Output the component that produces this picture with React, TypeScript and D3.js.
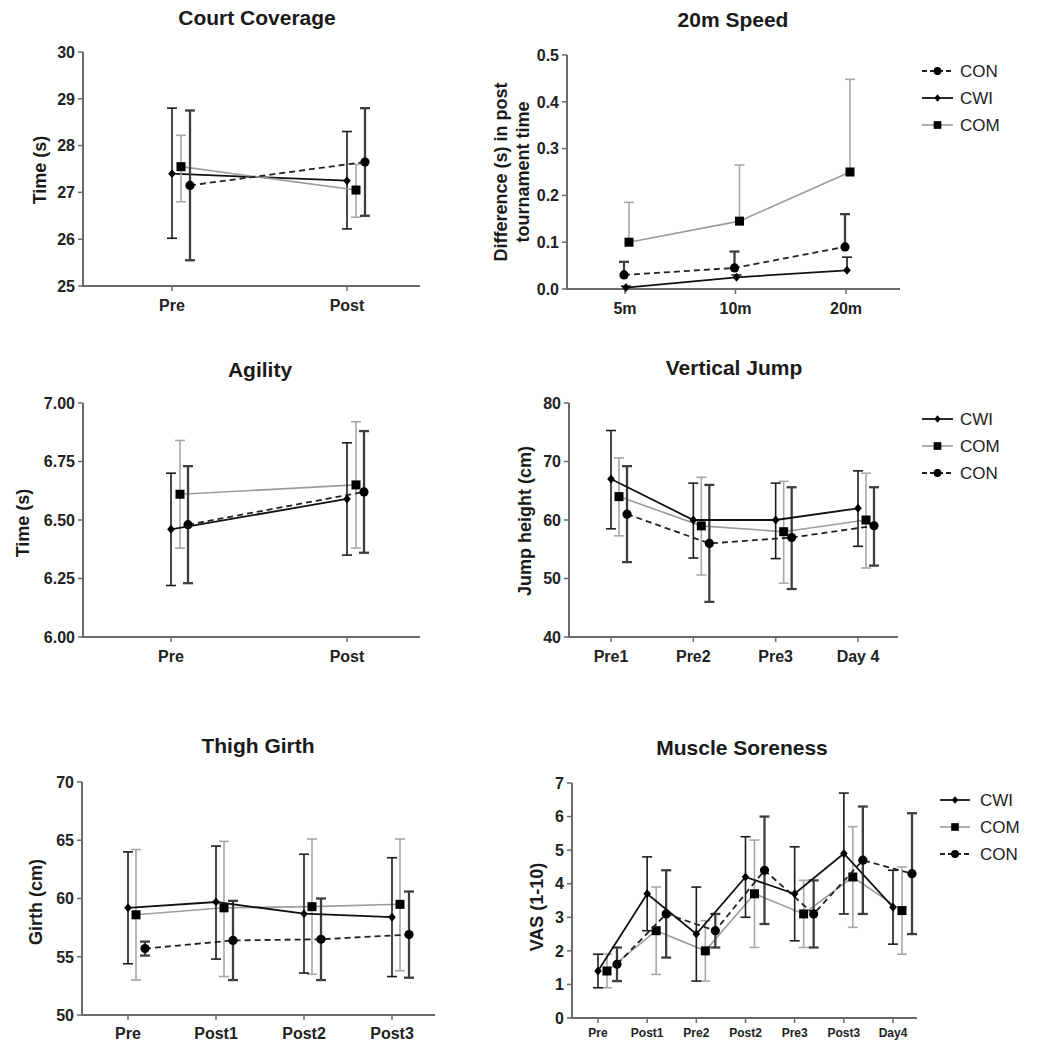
import React from "react";
import * as d3 from "d3";

// ---------- DATA ([mean, lower, upper]) ----------
const ccCats = ["Pre", "Post"];
const ccTicks = [25, 26, 27, 28, 29, 30];
const ccCWI = [[27.4, 26.02, 28.8], [27.25, 26.22, 28.3]];
const ccCOM = [[27.55, 26.8, 28.22], [27.05, 26.47, 27.6]];
const ccCON = [[27.15, 25.55, 28.75], [27.65, 26.5, 28.8]];

const spCats = ["5m", "10m", "20m"];
const spTicks = [0, 0.1, 0.2, 0.3, 0.4, 0.5];
const spCWI = [[0.003, null, 0.006], [0.025, null, 0.03], [0.04, null, 0.068]];
const spCOM = [[0.1, null, 0.185], [0.145, null, 0.265], [0.25, null, 0.448]];
const spCON = [[0.03, null, 0.058], [0.045, null, 0.08], [0.09, null, 0.16]];

const agCats = ["Pre", "Post"];
const agTicks = [6.0, 6.25, 6.5, 6.75, 7.0];
const agCWI = [[6.46, 6.22, 6.7], [6.59, 6.35, 6.83]];
const agCOM = [[6.61, 6.38, 6.84], [6.65, 6.38, 6.92]];
const agCON = [[6.48, 6.23, 6.73], [6.62, 6.36, 6.88]];

const vjCats = ["Pre1", "Pre2", "Pre3", "Day 4"];
const vjTicks = [40, 50, 60, 70, 80];
const vjCWI = [[67, 58.5, 75.3], [60, 53.5, 66.3], [60, 53.4, 66.3], [62, 55.5, 68.4]];
const vjCOM = [[64, 57.3, 70.6], [59, 50.6, 67.3], [58, 49.2, 66.6], [60, 51.8, 68.0]];
const vjCON = [[61, 52.8, 69.2], [56, 46, 66], [57, 48.2, 65.6], [59, 52.2, 65.6]];

const tgCats = ["Pre", "Post1", "Post2", "Post3"];
const tgTicks = [50, 55, 60, 65, 70];
const tgCWI = [[59.2, 54.4, 64.0], [59.7, 54.8, 64.5], [58.7, 53.6, 63.8], [58.4, 53.3, 63.5]];
const tgCOM = [[58.6, 53.0, 64.2], [59.2, 53.3, 64.9], [59.3, 53.5, 65.1], [59.5, 53.8, 65.1]];
const tgCON = [[55.7, 55.1, 56.3], [56.4, 53.0, 59.8], [56.5, 53.0, 60.0], [56.9, 53.2, 60.6]];

const msCats = ["Pre", "Post1", "Pre2", "Post2", "Pre3", "Post3", "Day4"];
const msTicks = [0, 1, 2, 3, 4, 5, 6, 7];
const msCWI = [[1.4, 0.9, 1.9], [3.7, 2.6, 4.8], [2.5, 1.1, 3.9], [4.2, 3.0, 5.4], [3.7, 2.3, 5.1], [4.9, 3.1, 6.7], [3.3, 2.2, 4.4]];
const msCOM = [[1.4, 0.9, 1.9], [2.6, 1.3, 3.9], [2.0, 1.1, 2.9], [3.7, 2.1, 5.3], [3.1, 2.1, 4.1], [4.2, 2.7, 5.7], [3.2, 1.9, 4.5]];
const msCON = [[1.6, 1.1, 2.1], [3.1, 1.8, 4.4], [2.6, 2.1, 3.1], [4.4, 2.8, 6.0], [3.1, 2.1, 4.1], [4.7, 3.1, 6.3], [4.3, 2.5, 6.1]];

// ---------- STYLES ----------
const FONT = "'Liberation Sans', Arial, Helvetica, sans-serif";
const STY: any = {
  CWI: { line: "#111", dash: null, lw: 1.8, err: "#1c1c1c", ew: 1.6, marker: "diamond" },
  COM: { line: "#9c9c9c", dash: null, lw: 1.6, err: "#a8a8a8", ew: 1.6, marker: "square" },
  CON: { line: "#222", dash: "6,4", lw: 1.8, err: "#3e3e3e", ew: 2.3, marker: "circle" },
};

function Marker({ kind, x, y, s = 1 }: any) {
  if (kind === "diamond")
    return <path d={`M${x},${y - 4.5 * s}L${x + 3.8 * s},${y}L${x},${y + 4.5 * s}L${x - 3.8 * s},${y}Z`} fill="#000" />;
  if (kind === "square") return <rect x={x - 4.5 * s} y={y - 4.5 * s} width={9 * s} height={9 * s} fill="#000" />;
  return <circle cx={x} cy={y} r={4.6 * s} fill="#000" />;
}

function Panel(p: any) {
  const y = d3.scaleLinear().domain(p.yDomain).range([p.yBot, p.yTop]);
  const x = d3.scalePoint().domain(p.cats).range([p.t0, p.t1]).padding(0);
  const fmt = d3.format(p.yFmt);
  return (
    <g fontFamily={FONT}>
      <text x={p.titleX} y={p.titleY} textAnchor="middle" fontSize={21} fontWeight="bold" fill="#1a1a1a">
        {p.title}
      </text>
      {p.ylab.map((l: string, i: number) => (
        <text
          key={i}
          transform={`translate(${p.ylabX[i]},${p.ylabY}) rotate(-90)`}
          textAnchor="middle"
          dy="0.35em"
          fontSize={18}
          fontWeight="bold"
          fill="#1a1a1a"
        >
          {l}
        </text>
      ))}
      {/* axes */}
      <line x1={p.axL} x2={p.axL} y1={p.yTop} y2={p.yBot} stroke="#6a6a6a" strokeWidth={2} />
      <line x1={p.axL - 1} x2={p.axR} y1={p.yBot} y2={p.yBot} stroke="#6a6a6a" strokeWidth={2} />
      {p.yTicks.map((t: number) => (
        <g key={t}>
          <line x1={p.axL - 5} x2={p.axL} y1={y(t)} y2={y(t)} stroke="#6a6a6a" strokeWidth={1.5} />
          <text x={p.axL - 8} y={y(t)} dy="0.36em" textAnchor="end" fontSize={16} fontWeight="bold" fill="#222">
            {fmt(t)}
          </text>
        </g>
      ))}
      {p.cats.map((c: string) => (
        <g key={c}>
          <line x1={x(c)} x2={x(c)} y1={p.yBot} y2={p.yBot + 5} stroke="#6a6a6a" strokeWidth={1.5} />
          <text x={x(c)} y={p.xlabY} textAnchor="middle" fontSize={p.xFont} fontWeight="bold" fill="#222">
            {c}
          </text>
        </g>
      ))}
      {/* series */}
      {p.series.map((s: any) => {
        const st = STY[s.name];
        const pts = s.data.map((d: any, i: number) => [x(p.cats[i])! + s.off, y(d[0])]);
        const line = d3.line()(pts as any);
        return (
          <g key={s.name}>
            <path d={line!} fill="none" stroke={st.line} strokeWidth={st.lw} strokeDasharray={st.dash || undefined} />
            {s.data.map((d: any, i: number) => {
              const cx = pts[i][0];
              const lo = d[1] == null ? y(d[0]) : y(d[1]);
              const hi = y(d[2]);
              return (
                <g key={i} stroke={st.err} strokeWidth={st.ew}>
                  <line x1={cx} x2={cx} y1={lo} y2={hi} />
                  <line x1={cx - 5} x2={cx + 5} y1={hi} y2={hi} />
                  {d[1] != null && <line x1={cx - 5} x2={cx + 5} y1={lo} y2={lo} />}
                </g>
              );
            })}
            {pts.map((pt: any, i: number) => (
              <Marker key={i} kind={st.marker} x={pt[0]} y={pt[1]} />
            ))}
          </g>
        );
      })}
      {p.legend &&
        p.legend.order.map((n: string, i: number) => {
          const st = STY[n];
          const ly = p.legend.y0 + i * p.legend.dy;
          return (
            <g key={n}>
              <line
                x1={p.legend.x0}
                x2={p.legend.x1}
                y1={ly}
                y2={ly}
                stroke={st.line}
                strokeWidth={st.lw}
                strokeDasharray={st.dash ? "5,3" : undefined}
              />
              <Marker kind={st.marker} x={(p.legend.x0 + p.legend.x1) / 2} y={ly} s={0.85} />
              <text x={p.legend.tx} y={ly} dy="0.36em" fontSize={17} fill="#222">
                {n}
              </text>
            </g>
          );
        })}
    </g>
  );
}

export default function App() {
  return (
    <svg width={1037} height={1041} style={{ position: "absolute", left: 0, top: 0, background: "#fff" }}>
      <rect width={1037} height={1041} fill="#fff" />
      <Panel
        title="Court Coverage" titleX={257} titleY={25}
        ylab={["Time (s)"]} ylabX={[40]} ylabY={170}
        cats={ccCats} yDomain={[25, 30]} yTicks={ccTicks} yFmt="d"
        axL={83} axR={420} yTop={52} yBot={286} t0={172} t1={347} xlabY={311} xFont={16}
        series={[{ name: "CWI", data: ccCWI, off: 0 }, { name: "COM", data: ccCOM, off: 9 }, { name: "CON", data: ccCON, off: 18 }]}
      />
      <Panel
        title="20m Speed" titleX={733} titleY={27}
        ylab={["Difference (s) in post", "tournament time"]} ylabX={[501, 523]} ylabY={172}
        cats={spCats} yDomain={[0, 0.5]} yTicks={spTicks} yFmt=".1f"
        axL={567} axR={900} yTop={55} yBot={289} t0={625} t1={846} xlabY={314} xFont={16}
        series={[{ name: "COM", data: spCOM, off: 4 }, { name: "CON", data: spCON, off: -1 }, { name: "CWI", data: spCWI, off: 1 }]}
        legend={{ order: ["CON", "CWI", "COM"], x0: 922, x1: 953, tx: 960, y0: 71, dy: 27 }}
      />
      <Panel
        title="Agility" titleX={260} titleY={377}
        ylab={["Time (s)"]} ylabX={[23]} ylabY={523}
        cats={agCats} yDomain={[6, 7]} yTicks={agTicks} yFmt=".2f"
        axL={83} axR={420} yTop={403} yBot={637} t0={171} t1={347} xlabY={662} xFont={16}
        series={[{ name: "COM", data: agCOM, off: 9 }, { name: "CON", data: agCON, off: 17 }, { name: "CWI", data: agCWI, off: 0 }]}
      />
      <Panel
        title="Vertical Jump" titleX={734} titleY={375}
        ylab={["Jump height (cm)"]} ylabX={[525]} ylabY={521}
        cats={vjCats} yDomain={[40, 80]} yTicks={vjTicks} yFmt="d"
        axL={569} axR={898} yTop={403} yBot={637} t0={611} t1={858} xlabY={662} xFont={16}
        series={[{ name: "COM", data: vjCOM, off: 8 }, { name: "CON", data: vjCON, off: 16 }, { name: "CWI", data: vjCWI, off: 0 }]}
        legend={{ order: ["CWI", "COM", "CON"], x0: 922, x1: 953, tx: 960, y0: 419, dy: 27 }}
      />
      <Panel
        title="Thigh Girth" titleX={258} titleY={753}
        ylab={["Girth (cm)"]} ylabX={[36]} ylabY={902}
        cats={tgCats} yDomain={[50, 70]} yTicks={tgTicks} yFmt="d"
        axL={82} axR={435} yTop={782} yBot={1015} t0={128} t1={392} xlabY={1039} xFont={16}
        series={[{ name: "COM", data: tgCOM, off: 8 }, { name: "CON", data: tgCON, off: 17 }, { name: "CWI", data: tgCWI, off: 0 }]}
      />
      <Panel
        title="Muscle Soreness" titleX={742} titleY={755}
        ylab={["VAS (1-10)"]} ylabX={[537]} ylabY={907}
        cats={msCats} yDomain={[0, 7]} yTicks={msTicks} yFmt="d"
        axL={572} axR={917} yTop={783} yBot={1018} t0={598} t1={893} xlabY={1037} xFont={12}
        series={[{ name: "COM", data: msCOM, off: 9 }, { name: "CON", data: msCON, off: 19 }, { name: "CWI", data: msCWI, off: 0 }]}
        legend={{ order: ["CWI", "COM", "CON"], x0: 940, x1: 970, tx: 980, y0: 800, dy: 27 }}
      />
    </svg>
  );
}
